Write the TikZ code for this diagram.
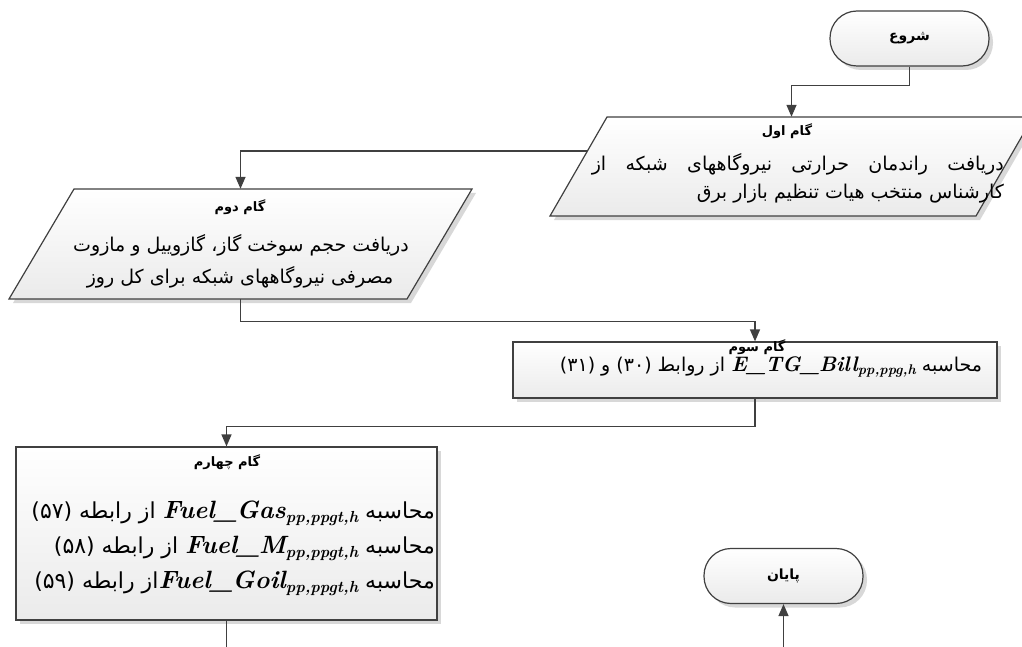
\documentclass[tikz,border=0pt]{standalone}
\usepackage{amsmath}
\usepackage{fontspec}
\usetikzlibrary{arrows.meta,shadows,calc}
\TeXXeTstate=1
\newfontfamily\fa[Script=Arabic]{DejaVu Sans}
\newcommand\rl[1]{\beginR#1\endR}
% bold italic variable name with a lowered index, kept left-to-right in its own box
% #1 name size, #2 index size, #3 name, #4 index
\newcommand\mv[4]{\hbox{\beginL\normalfont\fontsize{#1}{#1}\selectfont\bfseries\itshape
  #3\raisebox{-0.35ex}{\fontsize{#2}{#2}\selectfont #4}\endL}}
\definecolor{lc}{RGB}{64,64,64}
\definecolor{shd}{RGB}{216,216,216}

\tikzset{
  conn/.style={draw=lc, line width=1.4pt},
  flow/.style={conn, -{Triangle[length=12pt,width=10pt]}},
  boxlook/.style={draw=lc, line width=1.2pt, top color=white, bottom color=black!8,
    drop shadow={shadow xshift=4pt, shadow yshift=-4pt, fill=shd, opacity=1}},
  terminal/.style={boxlook, rectangle, rounded corners=27pt, minimum width=159pt,
    minimum height=55pt, inner sep=0pt, font=\fa\bfseries\fontsize{14}{16}\selectfont},
  holder/.style={rectangle, inner sep=0pt, draw=none},
  steptitle/.style={inner sep=0pt, font=\fa\bfseries\fontsize{13}{15}\selectfont},
  bodytext/.style={inner sep=0pt, font=\fa\fontsize{19}{22}\selectfont},
  bigtext/.style={inner sep=0pt, font=\fa\fontsize{22}{25}\selectfont},
}

\begin{document}
\begin{tikzpicture}[x=1pt,y=-1pt]
  \useasboundingbox (0,0) rectangle (1022,647);

  % start / end terminals
  \node[terminal] (start) at (909.5,38.5) {\rl{شروع}};
  \node[terminal] (stop)  at (783.5,576)  {\rl{پایان}};

  % step 1: input parallelogram
  \path[boxlook] (550,216) -- (976,216) -- (1033,117) -- (607,117) -- cycle;
  \node[holder, minimum width=426pt, minimum height=99pt] (p1) at (791.5,166.5) {};
  \coordinate (p1w) at (587.4,151);
  \node[steptitle] (p1t) at (787,131) {\rl{گام اول}};
  \node[bodytext, anchor=east] (p1a) at (1004,164)
    {\makebox[412pt][s]{\rl{دریافت راندمان حرارتی نیروگاههای شبکه از}}};
  \node[bodytext, anchor=east] (p1b) at (1004,194)
    {\rl{کارشناس منتخب هیات تنظیم بازار برق}};

  % step 2: input parallelogram
  \path[boxlook] (9,299) -- (407,299) -- (472,189) -- (74,189) -- cycle;
  \node[holder, minimum width=398pt, minimum height=110pt] (p2) at (240.5,244) {};
  \node[steptitle] (p2t) at (240,207) {\rl{گام دوم}};
  \node[bodytext] (p2a) at (241,245) {\rl{دریافت حجم سوخت گاز، گازوییل و مازوت}};
  \node[bodytext] (p2b) at (240,277) {\rl{مصرفی نیروگاههای شبکه برای کل روز}};

  % step 3: process box
  \node[boxlook, holder, draw=lc, minimum width=484pt, minimum height=56pt] (r3) at (755,370) {};
  \node[steptitle] (r3t) at (757,347) {\rl{گام سوم}};
  \node[bodytext] (r3a) at (771,367)
    {\rl{محاسبه \mv{21}{14}{E\_TG\_Bill}{pp,ppg,h} از روابط (۳۰) و (۳۱)}};

  % step 4: process box
  \node[boxlook, holder, draw=lc, minimum width=421pt, minimum height=173pt] (r4) at (226.5,533.5) {};
  \node[steptitle] (r4t) at (227,462) {\rl{گام چهارم}};
  \node[bigtext, anchor=east] (r4a) at (435,513)
    {\rl{محاسبه \mv{25}{16}{Fuel\_Gas}{pp,ppgt,h} از رابطه (۵۷)}};
  \node[bigtext, anchor=east] (r4b) at (435,548)
    {\rl{محاسبه \mv{25}{16}{Fuel\_M}{pp,ppgt,h} از رابطه (۵۸)}};
  \node[bigtext, anchor=east] (r4c) at (435,583)
    {\rl{محاسبه \mv{25}{16}{Fuel\_Goil}{pp,ppgt,h}از رابطه (۵۹)}};

  % loose ends running off the page
  \coordinate (r4out) at (226.5,652);
  \coordinate (stopin) at (783.5,652);

  % connectors
  \draw[flow] (start.south) -- ($(start.south)+(0,19)$) -| (p1.north);
  \draw[flow] (p1w) -| (p2.north);
  \draw[flow] (p2.south) -- ($(p2.south)+(0,22)$) -| (r3.north);
  \draw[flow] (r3.south) -- ($(r3.south)+(0,28)$) -| (r4.north);
  \draw[conn] (r4.south) -- (r4out);
  \draw[flow] (stopin) -- (stop.south);
\end{tikzpicture}
\end{document}
